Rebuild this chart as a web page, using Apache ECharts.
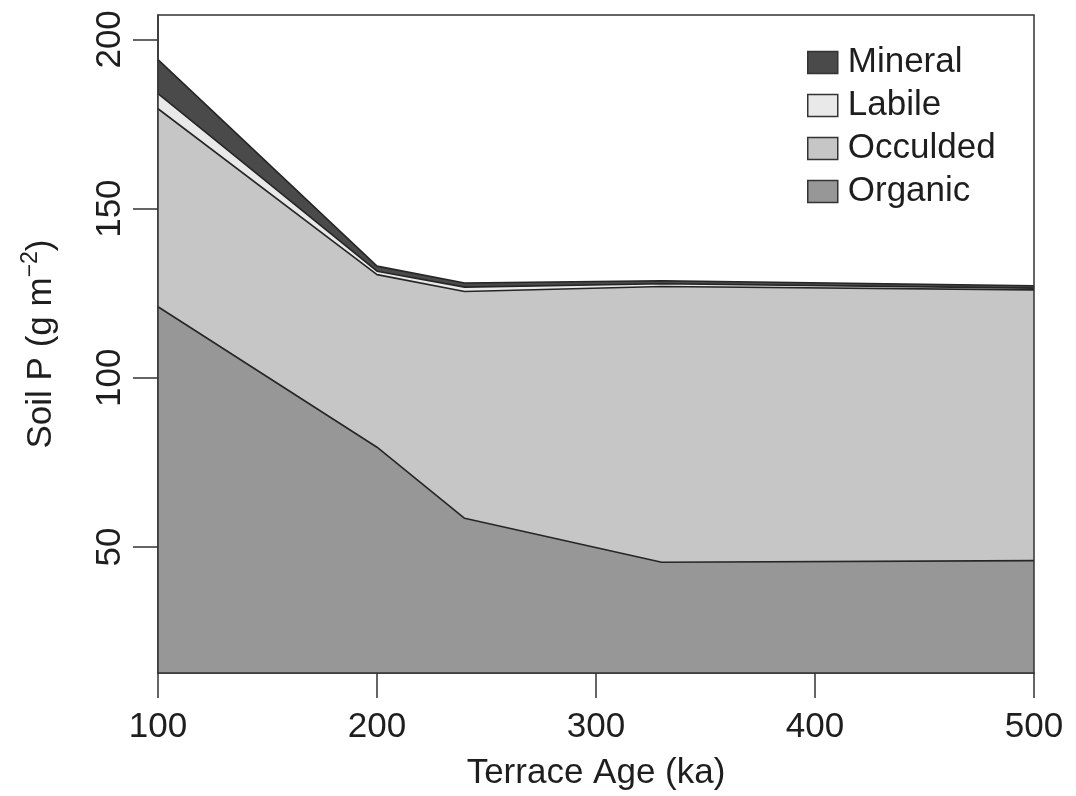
<!DOCTYPE html>
<html>
<head>
<meta charset="utf-8">
<script src="https://cdn.jsdelivr.net/npm/echarts@6/dist/echarts.min.js"></script>
<style>html,body{margin:0;padding:0;background:#fff}#c{width:1076px;height:796px}</style>
</head>
<body>
<div id="c"></div>
<script>
// Terrace age (ka)
var ages = [100, 200, 240, 330, 500];
// Soil P pools (g m^-2), stacked from bottom
var organic  = [121, 79.5, 58.5, 45.5, 46];
var occluded = [58.5, 51, 67, 81.5, 80];
var labile   = [4.5, 1, 1.3, 0.8, 0.5];
var mineral  = [10, 1.5, 1.2, 0.9, 0.7];
var seriesNames = ['Organic', 'Occulded', 'Labile', 'Mineral'];
var legendOrder = ['Mineral', 'Labile', 'Occulded', 'Organic'];
var xTicks = [100, 200, 300, 400, 500];
var yTicks = [50, 100, 150, 200];

var fills = {Organic: '#979797', Occulded: '#c6c6c6', Labile: '#e9e9e9', Mineral: '#4a4a4a'};
var values = {Organic: organic, Occulded: occluded, Labile: labile, Mineral: mineral};
var FONT = 'Liberation Sans';
var TXT = '#1e1e1e';

// cumulative tops of each stacked layer
var running = ages.map(function () { return 0; });
var tops = {};
seriesNames.forEach(function (n) {
  running = running.map(function (v, i) { return v + values[n][i]; });
  tops[n] = running.slice();
});

// draw topmost layer first so lower layers cover it
var series = seriesNames.slice().reverse().map(function (n, k) {
  return {
    name: n, type: 'line', symbol: 'none', showSymbol: false,
    data: ages.map(function (a, i) { return [a, tops[n][i]]; }),
    lineStyle: {color: '#262626', width: 1.6},
    itemStyle: {color: fills[n], borderColor: '#333', borderWidth: 1.5},
    areaStyle: {color: fills[n], opacity: 1},
    emphasis: {disabled: true},
    z: 2 + k * 0.01
  };
});

var chart = echarts.init(document.getElementById('c'), null, {renderer: 'canvas'});
chart.setOption({
  animation: false,
  backgroundColor: '#fff',
  textStyle: {fontFamily: FONT},
  grid: {left: 158, right: 42, top: 15, bottom: 123, show: true, borderColor: '#333', borderWidth: 1.5, backgroundColor: 'transparent', z: 3},
  legend: {
    orient: 'vertical', left: 802, top: 40,
    data: legendOrder.map(function (n) { return {name: n, icon: 'rect', itemStyle: {color: fills[n], borderColor: '#333', borderWidth: 1.5}}; }),
    itemWidth: 30, itemHeight: 22, itemGap: 8,
    textStyle: {fontFamily: FONT, fontSize: 35, color: TXT, padding: [0, 0, 0, 5]},
    selectedMode: false
  },
  xAxis: {
    type: 'value', min: 100, max: 500, interval: 100,
    name: 'Terrace Age (ka)', nameLocation: 'middle', nameGap: 83,
    nameTextStyle: {fontFamily: FONT, fontSize: 35, color: TXT},
    axisLine: {show: true, onZero: false, lineStyle: {color: '#333', width: 1.5}},
    axisTick: {show: true, length: 25, lineStyle: {color: '#333', width: 1.5}, customValues: xTicks},
    axisLabel: {fontFamily: FONT, fontSize: 35, color: TXT, margin: 37, customValues: xTicks},
    splitLine: {show: false}
  },
  yAxis: {
    type: 'value', min: 12.8, max: 207.2,
    name: 'Soil P (g m{sup|−2})', nameLocation: 'middle', nameGap: 94, nameRotate: 90,
    nameTextStyle: {fontFamily: FONT, fontSize: 35, color: TXT, rich: {sup: {fontFamily: FONT, fontSize: 23, color: TXT, padding: [0, 0, 22, 0]}}},
    axisLine: {show: true, onZero: false, lineStyle: {color: '#333', width: 1.5}},
    axisTick: {show: true, length: 25, lineStyle: {color: '#333', width: 1.5}, customValues: yTicks},
    axisLabel: {fontFamily: FONT, fontSize: 35, color: TXT, margin: 30, rotate: 90, customValues: yTicks},
    splitLine: {show: false}
  },
  series: series
});
</script>
</body>
</html>
